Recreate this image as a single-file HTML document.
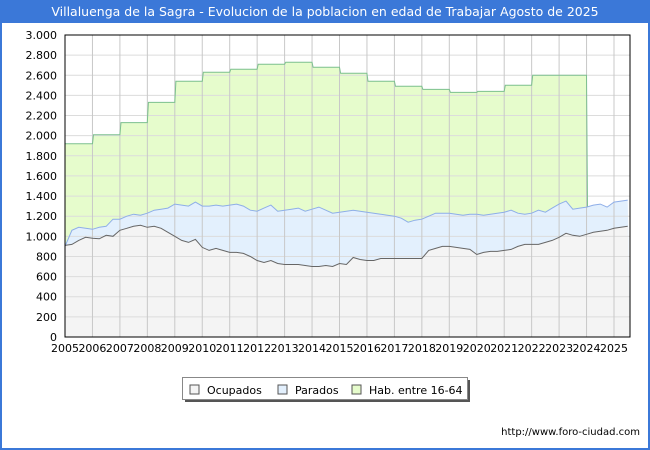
<!DOCTYPE html>
<html><head><meta charset="utf-8"><style>
body{margin:0;width:650px;height:450px;overflow:hidden;background:#fff;font-family:"DejaVu Sans","Liberation Sans",sans-serif;}
#frame{position:absolute;left:0;top:0;width:646px;height:448px;border:2px solid #3b78d8;border-top:none;}
#title{position:absolute;left:0;top:0;width:650px;height:23px;background:#3b78d8;color:#fff;font-size:12.5px;line-height:23px;text-align:center;}
#foot{position:absolute;right:10px;top:427px;font-size:10px;color:#000;font-family:"DejaVu Sans",sans-serif;}
</style></head><body>
<div id="frame"></div>
<div id="title">Villaluenga de la Sagra - Evolucion de la poblacion en edad de Trabajar Agosto de 2025</div>
<svg id="chart" width="650" height="450" style="position:absolute;left:0;top:0;font-family:'DejaVu Sans',sans-serif"></svg>
<div id="foot">http://www.foro-ciudad.com</div>
<script>
const years=[2005,2006,2007,2008,2009,2010,2011,2012,2013,2014,2015,2016,2017,2018,2019,2020,2021,2022,2023,2024,2025];
const yTicks=[0,200,400,600,800,1000,1200,1400,1600,1800,2000,2200,2400,2600,2800,3000];
const habYears=[2005,2006,2007,2008,2009,2010,2011,2012,2013,2014,2015,2016,2017,2018,2019,2020,2021,2022,2023];
const habValues=[1920,2010,2130,2330,2540,2630,2660,2710,2730,2680,2620,2540,2490,2460,2430,2440,2500,2600,2600];
const ocupados=[910,920,960,990, 980,975,1010,1000, 1060,1080,1100,1110, 1090,1100,1080,1040, 1000,960,940,970, 890,860,880,860, 840,840,830,800, 760,740,760,730, 720,720,720,710, 700,700,710,700, 730,720,790,770, 760,760,780,780, 780,780,780,780, 780,860,880,900, 900,890,880,870, 820,840,850,850, 860,870,900,920, 920,920,940,960, 990,1030,1010,1000, 1020,1040,1050,1060, 1080,1090,1100];
const totalActivos=[900,1060,1090,1080, 1070,1090,1100,1170, 1170,1200,1220,1210, 1230,1260,1270,1280, 1320,1310,1300,1340, 1300,1300,1310,1300, 1310,1320,1300,1260, 1250,1280,1310,1250, 1260,1270,1280,1250, 1270,1290,1260,1230, 1240,1250,1260,1250, 1240,1230,1220,1210, 1200,1180,1140,1160, 1170,1200,1230,1230, 1230,1220,1210,1220, 1220,1210,1220,1230, 1240,1260,1230,1220, 1230,1260,1240,1280, 1320,1350,1270,1280, 1290,1310,1320,1290, 1340,1350,1360];
const legendLabels=["Ocupados","Parados","Hab. entre 16-64"];

const L=65,R=630,T=35,B=337,t0=2005,pxYear=27.45;
const X=t=>L+(t-t0)*pxYear;
const Y=v=>B-v*(B-T)/3000;
const svg=document.getElementById('chart');
const NS='http://www.w3.org/2000/svg';
function mk(tag,attrs){const e=document.createElementNS(NS,tag);for(const k in attrs)e.setAttribute(k,attrs[k]);svg.appendChild(e);return e;}
const qT=i=>Math.min(t0+i*0.25,t0+(R-L)/pxYear);

let g=mk('rect',{x:L,y:T,width:R-L,height:B-T,fill:'#fff'});



let hp=[];
habYears.forEach((yr,i)=>{hp.push([X(yr+(i?0.04:0)),Y(habValues[i])]);hp.push([X(yr+1),Y(habValues[i])]);});
const endT=habYears[habYears.length-1]+1;
let tot=[];totalActivos.forEach((v,i)=>tot.push([X(qT(i)),Y(v)]));
let ocu=[];ocupados.forEach((v,i)=>ocu.push([X(qT(i)),Y(v)]));
const P=a=>a.map(p=>p[0].toFixed(1)+','+p[1].toFixed(1)).join(' ');
g=mk('polygon',{points:P(hp.concat([[X(endT)+1,Y(totalActivos[Math.round((endT-t0)*4)])],[X(endT)+1,B],[L,B]])),fill:'#e6fccc'});


g=mk('polygon',{points:P(tot.concat([[R,B],[L,B]])),fill:'#e3f0fd'});


g=mk('polygon',{points:P(ocu.concat([[R,B],[L,B]])),fill:'#f4f4f4'});



yTicks.forEach(v=>{
 let l=mk('line',{x1:L,x2:R,y1:Y(v),y2:Y(v),stroke:'#dcdcdc','stroke-width':1});
 
 
 let t=mk('text',{x:L-8,y:Y(v)+4,'text-anchor':'end','font-size':11,fill:'#000'});
 t.textContent=v.toLocaleString('de-DE');
 
 
});
years.forEach(yr=>{
 if(yr>t0){let l=mk('line',{x1:X(yr),x2:X(yr),y1:T,y2:B,stroke:'#c8c8c8','stroke-width':1});
 
 }
 let t=mk('text',{x:X(yr),y:B+15,'text-anchor':'middle','font-size':11,fill:'#000'});
 t.textContent=yr;
 
 
});

g=mk('polyline',{points:P(hp.concat([[X(endT)+1,Y(totalActivos[Math.round((endT-t0)*4)])]])),fill:'none',stroke:'#7cc08e','stroke-width':1});


g=mk('polyline',{points:P(tot),fill:'none',stroke:'#8eaee8','stroke-width':1});


g=mk('polyline',{points:P(ocu),fill:'none',stroke:'#666','stroke-width':1});


g=mk('rect',{x:L,y:T,width:R-L,height:B-T,fill:'none',stroke:'#000','stroke-width':1});



g=mk('rect',{x:185,y:380,width:285,height:22,fill:'#555'});


g=mk('rect',{x:182.5,y:377.5,width:285,height:22,fill:'#fff',stroke:'#888'});


const lc=['#f4f4f4','#e3f0fd','#e6fccc'],lx=[190,278,352];
legendLabels.forEach((s,i)=>{
 let r=mk('rect',{x:lx[i],y:385,width:9,height:9,fill:lc[i],stroke:'#555'});
 
 
 let t=mk('text',{x:lx[i]+17,y:394,'font-size':11,fill:'#000'});
 t.textContent=s;
 
 
});
</script>
</body></html>
